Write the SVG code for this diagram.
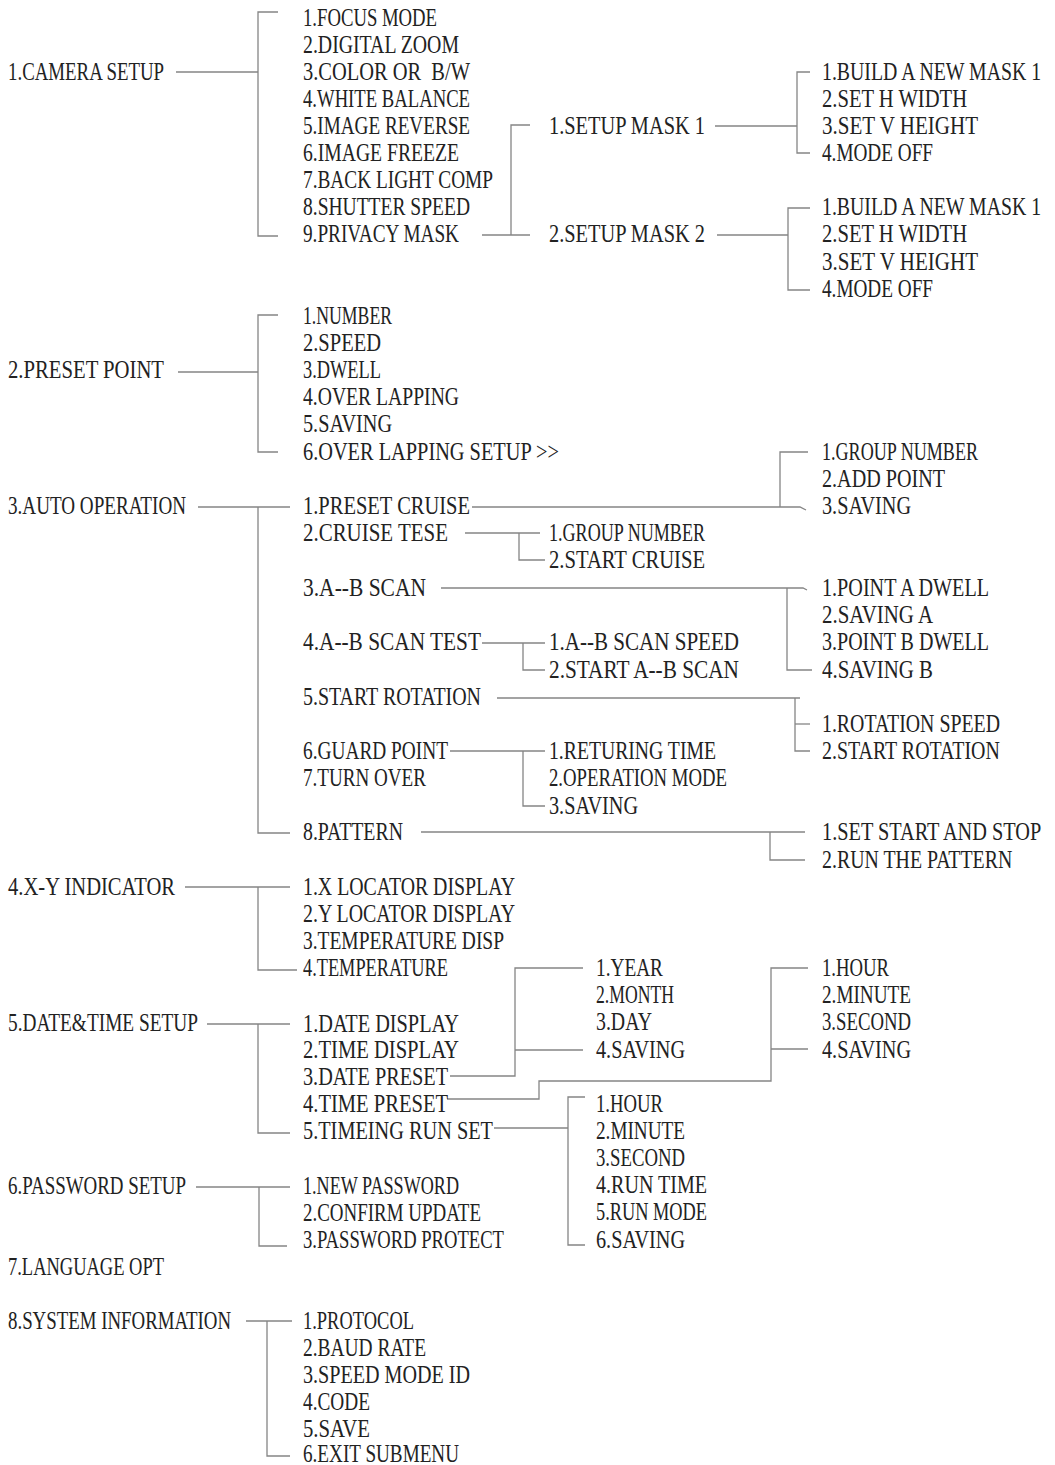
<svg xmlns="http://www.w3.org/2000/svg" width="1055" height="1465" viewBox="0 0 1055 1465">
<style>
text{font-family:"Liberation Serif","DejaVu Serif",serif;font-size:25px;fill:#222;white-space:pre}
.c path{fill:none;stroke:#858585;stroke-width:1.3}
</style>
<rect width="1055" height="1465" fill="#fff"/>
<g class="c" id="connectors">
<path d="M176,72 H258"/><path d="M278,12 H258 V236 H278"/>
<path d="M482,235 H530"/><path d="M530,125 H511 V235"/>
<path d="M715,126 H797"/><path d="M810,72 H797 V153 H810"/>
<path d="M717,235 H788"/><path d="M810,208 H788 V290 H810"/>
<path d="M178,372 H258"/><path d="M278,315 H258 V452 H278"/>
<path d="M198,507 H290"/><path d="M258,507 V833 H290"/>
<path d="M472,507 H800 L806,510"/><path d="M808,452 H780 V507"/>
<path d="M465,533 H540"/><path d="M519,533 V560 H545"/>
<path d="M441,588 H803 L807,590"/><path d="M787,588 V670 H812"/>
<path d="M482,643 H545"/><path d="M523,643 V670 H545"/>
<path d="M497,698 H800"/><path d="M795,698 V751 H810"/><path d="M795,724 H810"/>
<path d="M450,751 H545"/><path d="M523,751 V806 H545"/>
<path d="M421,832 H805"/><path d="M770,832 V860 H805"/>
<path d="M185,887 H290"/><path d="M258,887 V970 H297"/>
<path d="M207,1024 H290"/><path d="M258,1024 V1133 H290"/>
<path d="M450,1076 H515 V968 H583"/><path d="M515,1050 H583"/>
<path d="M447,1099 H539 V1081 H771 V968 H808"/><path d="M771,1049 H808"/>
<path d="M494,1128 H568"/><path d="M585,1097 H568 V1245 H585"/>
<path d="M196,1187 H290"/><path d="M259,1187 V1246 H287"/>
<path d="M246,1321 H292"/><path d="M267,1321 V1456 H290"/>
</g>
<g id="n1"><text x="8" y="80" textLength="156" lengthAdjust="spacingAndGlyphs">1.CAMERA SETUP</text></g>
<g id="n1-1"><text x="303" y="26" textLength="134" lengthAdjust="spacingAndGlyphs">1.FOCUS MODE</text></g>
<g id="n1-2"><text x="303" y="53" textLength="156" lengthAdjust="spacingAndGlyphs">2.DIGITAL ZOOM</text></g>
<g id="n1-3"><text x="303" y="80" textLength="167" lengthAdjust="spacingAndGlyphs">3.COLOR OR  B/W</text></g>
<g id="n1-4"><text x="303" y="107" textLength="167" lengthAdjust="spacingAndGlyphs">4.WHITE BALANCE</text></g>
<g id="n1-5"><text x="303" y="134" textLength="167" lengthAdjust="spacingAndGlyphs">5.IMAGE REVERSE</text></g>
<g id="n1-6"><text x="303" y="161" textLength="156" lengthAdjust="spacingAndGlyphs">6.IMAGE FREEZE</text></g>
<g id="n1-7"><text x="303" y="188" textLength="190" lengthAdjust="spacingAndGlyphs">7.BACK LIGHT COMP</text></g>
<g id="n1-8"><text x="303" y="215" textLength="167" lengthAdjust="spacingAndGlyphs">8.SHUTTER SPEED</text></g>
<g id="n1-9"><text x="303" y="242" textLength="156" lengthAdjust="spacingAndGlyphs">9.PRIVACY MASK</text></g>
<g id="n1-9-1"><text x="549" y="134" textLength="156" lengthAdjust="spacingAndGlyphs">1.SETUP MASK 1</text></g>
<g id="n1-9-2"><text x="549" y="242" textLength="156" lengthAdjust="spacingAndGlyphs">2.SETUP MASK 2</text></g>
<g id="n1-9-1-1"><text transform="translate(822,80) scale(0.78,1)" textLength="281" lengthAdjust="spacingAndGlyphs">1.BUILD A NEW MASK 1</text></g>
<g id="n1-9-1-2"><text x="822" y="107" textLength="145" lengthAdjust="spacingAndGlyphs">2.SET H WIDTH</text></g>
<g id="n1-9-1-3"><text x="822" y="134" textLength="156" lengthAdjust="spacingAndGlyphs">3.SET V HEIGHT</text></g>
<g id="n1-9-1-4"><text x="822" y="161" textLength="111" lengthAdjust="spacingAndGlyphs">4.MODE OFF</text></g>
<g id="n1-9-2-1"><text transform="translate(822,215) scale(0.78,1)" textLength="281" lengthAdjust="spacingAndGlyphs">1.BUILD A NEW MASK 1</text></g>
<g id="n1-9-2-2"><text x="822" y="242" textLength="145" lengthAdjust="spacingAndGlyphs">2.SET H WIDTH</text></g>
<g id="n1-9-2-3"><text x="822" y="270" textLength="156" lengthAdjust="spacingAndGlyphs">3.SET V HEIGHT</text></g>
<g id="n1-9-2-4"><text x="822" y="297" textLength="111" lengthAdjust="spacingAndGlyphs">4.MODE OFF</text></g>
<g id="n2"><text x="8" y="378" textLength="156" lengthAdjust="spacingAndGlyphs">2.PRESET POINT</text></g>
<g id="n2-1"><text x="303" y="324" textLength="89" lengthAdjust="spacingAndGlyphs">1.NUMBER</text></g>
<g id="n2-2"><text x="303" y="351" textLength="78" lengthAdjust="spacingAndGlyphs">2.SPEED</text></g>
<g id="n2-3"><text x="303" y="378" textLength="78" lengthAdjust="spacingAndGlyphs">3.DWELL</text></g>
<g id="n2-4"><text x="303" y="405" textLength="156" lengthAdjust="spacingAndGlyphs">4.OVER LAPPING</text></g>
<g id="n2-5"><text x="303" y="432" textLength="89" lengthAdjust="spacingAndGlyphs">5.SAVING</text></g>
<g id="n2-6"><text x="303" y="460" textLength="256" lengthAdjust="spacingAndGlyphs">6.OVER LAPPING SETUP &gt;&gt;</text></g>
<g id="n3"><text x="8" y="514" textLength="178" lengthAdjust="spacingAndGlyphs">3.AUTO OPERATION</text></g>
<g id="n3-1"><text x="303" y="514" textLength="167" lengthAdjust="spacingAndGlyphs">1.PRESET CRUISE</text></g>
<g id="n3-2"><text x="303" y="541" textLength="145" lengthAdjust="spacingAndGlyphs">2.CRUISE TESE</text></g>
<g id="n3-3"><text x="303" y="596" textLength="123" lengthAdjust="spacingAndGlyphs">3.A--B SCAN</text></g>
<g id="n3-4"><text x="303" y="650" textLength="178" lengthAdjust="spacingAndGlyphs">4.A--B SCAN TEST</text></g>
<g id="n3-5"><text x="303" y="705" textLength="178" lengthAdjust="spacingAndGlyphs">5.START ROTATION</text></g>
<g id="n3-6"><text x="303" y="759" textLength="145" lengthAdjust="spacingAndGlyphs">6.GUARD POINT</text></g>
<g id="n3-7"><text x="303" y="786" textLength="123" lengthAdjust="spacingAndGlyphs">7.TURN OVER</text></g>
<g id="n3-8"><text x="303" y="840" textLength="100" lengthAdjust="spacingAndGlyphs">8.PATTERN</text></g>
<g id="n3-1-1"><text x="822" y="460" textLength="156" lengthAdjust="spacingAndGlyphs">1.GROUP NUMBER</text></g>
<g id="n3-1-2"><text x="822" y="487" textLength="123" lengthAdjust="spacingAndGlyphs">2.ADD POINT</text></g>
<g id="n3-1-3"><text x="822" y="514" textLength="89" lengthAdjust="spacingAndGlyphs">3.SAVING</text></g>
<g id="n3-2-1"><text x="549" y="541" textLength="156" lengthAdjust="spacingAndGlyphs">1.GROUP NUMBER</text></g>
<g id="n3-2-2"><text x="549" y="568" textLength="156" lengthAdjust="spacingAndGlyphs">2.START CRUISE</text></g>
<g id="n3-3-1"><text x="822" y="596" textLength="167" lengthAdjust="spacingAndGlyphs">1.POINT A DWELL</text></g>
<g id="n3-3-2"><text x="822" y="623" textLength="111" lengthAdjust="spacingAndGlyphs">2.SAVING A</text></g>
<g id="n3-3-3"><text x="822" y="650" textLength="167" lengthAdjust="spacingAndGlyphs">3.POINT B DWELL</text></g>
<g id="n3-3-4"><text x="822" y="678" textLength="111" lengthAdjust="spacingAndGlyphs">4.SAVING B</text></g>
<g id="n3-4-1"><text x="549" y="650" textLength="190" lengthAdjust="spacingAndGlyphs">1.A--B SCAN SPEED</text></g>
<g id="n3-4-2"><text x="549" y="678" textLength="190" lengthAdjust="spacingAndGlyphs">2.START A--B SCAN</text></g>
<g id="n3-5-1"><text x="822" y="732" textLength="178" lengthAdjust="spacingAndGlyphs">1.ROTATION SPEED</text></g>
<g id="n3-5-2"><text transform="translate(822,759) scale(0.78,1)" textLength="228" lengthAdjust="spacingAndGlyphs">2.START ROTATION</text></g>
<g id="n3-6-1"><text x="549" y="759" textLength="167" lengthAdjust="spacingAndGlyphs">1.RETURING TIME</text></g>
<g id="n3-6-2"><text x="549" y="786" textLength="178" lengthAdjust="spacingAndGlyphs">2.OPERATION MODE</text></g>
<g id="n3-6-3"><text x="549" y="814" textLength="89" lengthAdjust="spacingAndGlyphs">3.SAVING</text></g>
<g id="n3-8-1"><text transform="translate(822,840) scale(0.78,1)" textLength="281" lengthAdjust="spacingAndGlyphs">1.SET START AND STOP</text></g>
<g id="n3-8-2"><text transform="translate(822,868) scale(0.78,1)" textLength="244" lengthAdjust="spacingAndGlyphs">2.RUN THE PATTERN</text></g>
<g id="n4"><text x="8" y="895" textLength="167" lengthAdjust="spacingAndGlyphs">4.X-Y INDICATOR</text></g>
<g id="n4-1"><text x="303" y="895" textLength="212" lengthAdjust="spacingAndGlyphs">1.X LOCATOR DISPLAY</text></g>
<g id="n4-2"><text x="303" y="922" textLength="212" lengthAdjust="spacingAndGlyphs">2.Y LOCATOR DISPLAY</text></g>
<g id="n4-3"><text x="303" y="949" textLength="201" lengthAdjust="spacingAndGlyphs">3.TEMPERATURE DISP</text></g>
<g id="n4-4"><text x="303" y="976" textLength="145" lengthAdjust="spacingAndGlyphs">4.TEMPERATURE</text></g>
<g id="n5"><text x="8" y="1031" textLength="190" lengthAdjust="spacingAndGlyphs">5.DATE&amp;TIME SETUP</text></g>
<g id="n5-1"><text x="303" y="1032" textLength="156" lengthAdjust="spacingAndGlyphs">1.DATE DISPLAY</text></g>
<g id="n5-2"><text x="303" y="1058" textLength="156" lengthAdjust="spacingAndGlyphs">2.TIME DISPLAY</text></g>
<g id="n5-3"><text x="303" y="1085" textLength="145" lengthAdjust="spacingAndGlyphs">3.DATE PRESET</text></g>
<g id="n5-4"><text x="303" y="1112" textLength="145" lengthAdjust="spacingAndGlyphs">4.TIME PRESET</text></g>
<g id="n5-5"><text x="303" y="1139" textLength="190" lengthAdjust="spacingAndGlyphs">5.TIMEING RUN SET</text></g>
<g id="n5-3-1"><text x="596" y="976" textLength="67" lengthAdjust="spacingAndGlyphs">1.YEAR</text></g>
<g id="n5-3-2"><text x="596" y="1003" textLength="78" lengthAdjust="spacingAndGlyphs">2.MONTH</text></g>
<g id="n5-3-3"><text x="596" y="1030" textLength="56" lengthAdjust="spacingAndGlyphs">3.DAY</text></g>
<g id="n5-3-4"><text x="596" y="1058" textLength="89" lengthAdjust="spacingAndGlyphs">4.SAVING</text></g>
<g id="n5-4-1"><text x="822" y="976" textLength="67" lengthAdjust="spacingAndGlyphs">1.HOUR</text></g>
<g id="n5-4-2"><text x="822" y="1003" textLength="89" lengthAdjust="spacingAndGlyphs">2.MINUTE</text></g>
<g id="n5-4-3"><text x="822" y="1030" textLength="89" lengthAdjust="spacingAndGlyphs">3.SECOND</text></g>
<g id="n5-4-4"><text x="822" y="1058" textLength="89" lengthAdjust="spacingAndGlyphs">4.SAVING</text></g>
<g id="n5-5-1"><text x="596" y="1112" textLength="67" lengthAdjust="spacingAndGlyphs">1.HOUR</text></g>
<g id="n5-5-2"><text x="596" y="1139" textLength="89" lengthAdjust="spacingAndGlyphs">2.MINUTE</text></g>
<g id="n5-5-3"><text x="596" y="1166" textLength="89" lengthAdjust="spacingAndGlyphs">3.SECOND</text></g>
<g id="n5-5-4"><text x="596" y="1193" textLength="111" lengthAdjust="spacingAndGlyphs">4.RUN TIME</text></g>
<g id="n5-5-5"><text x="596" y="1220" textLength="111" lengthAdjust="spacingAndGlyphs">5.RUN MODE</text></g>
<g id="n5-5-6"><text x="596" y="1248" textLength="89" lengthAdjust="spacingAndGlyphs">6.SAVING</text></g>
<g id="n6"><text x="8" y="1194" textLength="178" lengthAdjust="spacingAndGlyphs">6.PASSWORD SETUP</text></g>
<g id="n6-1"><text x="303" y="1194" textLength="156" lengthAdjust="spacingAndGlyphs">1.NEW PASSWORD</text></g>
<g id="n6-2"><text x="303" y="1221" textLength="178" lengthAdjust="spacingAndGlyphs">2.CONFIRM UPDATE</text></g>
<g id="n6-3"><text x="303" y="1248" textLength="201" lengthAdjust="spacingAndGlyphs">3.PASSWORD PROTECT</text></g>
<g id="n7"><text x="8" y="1275" textLength="156" lengthAdjust="spacingAndGlyphs">7.LANGUAGE OPT</text></g>
<g id="n8"><text x="8" y="1329" textLength="223" lengthAdjust="spacingAndGlyphs">8.SYSTEM INFORMATION</text></g>
<g id="n8-1"><text x="303" y="1329" textLength="111" lengthAdjust="spacingAndGlyphs">1.PROTOCOL</text></g>
<g id="n8-2"><text x="303" y="1356" textLength="123" lengthAdjust="spacingAndGlyphs">2.BAUD RATE</text></g>
<g id="n8-3"><text x="303" y="1383" textLength="167" lengthAdjust="spacingAndGlyphs">3.SPEED MODE ID</text></g>
<g id="n8-4"><text x="303" y="1410" textLength="67" lengthAdjust="spacingAndGlyphs">4.CODE</text></g>
<g id="n8-5"><text x="303" y="1437" textLength="67" lengthAdjust="spacingAndGlyphs">5.SAVE</text></g>
<g id="n8-6"><text x="303" y="1462" textLength="156" lengthAdjust="spacingAndGlyphs">6.EXIT SUBMENU</text></g>
</svg>
